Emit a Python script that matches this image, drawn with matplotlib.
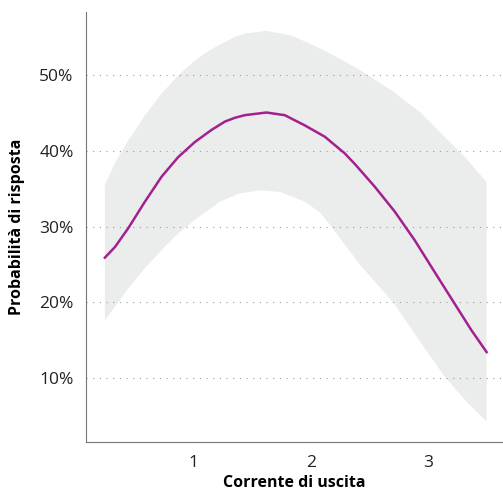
import matplotlib.pyplot as plt
import numpy as np

# values
x_line = [0.24, 0.326, 0.44, 0.582, 0.724, 0.866, 1.009, 1.151, 1.265, 1.35, 1.435,
          1.62, 1.776, 1.947, 2.118, 2.288, 2.374, 2.459, 2.544, 2.715, 2.886, 3.056,
          3.227, 3.37, 3.50]
y_line = [25.9, 27.3, 29.8, 33.3, 36.6, 39.2, 41.2, 42.8, 43.9, 44.4, 44.75,
          45.1, 44.75, 43.4, 41.9, 39.7, 38.3, 36.8, 35.3, 32.0, 28.2, 24.0,
          19.8, 16.3, 13.4]

x_upper = [0.24, 0.326, 0.44, 0.582, 0.724, 0.866, 1.009, 1.151, 1.265, 1.35, 1.435,
           1.62, 1.834, 2.118, 2.40, 2.70, 2.943, 3.114, 3.315, 3.50]
y_upper = [35.5, 38.4, 41.4, 44.7, 47.6, 50.0, 52.0, 53.5, 54.4, 55.1, 55.55,
           55.9, 55.3, 53.3, 50.9, 47.9, 45.0, 42.3, 39.2, 35.9]

x_lower = [0.24, 0.326, 0.44, 0.582, 0.724, 0.866, 1.009, 1.151, 1.222, 1.392, 1.563,
           1.734, 1.947, 2.075, 2.16, 2.246, 2.416, 2.587, 2.715, 2.857, 2.999, 3.14,
           3.315, 3.50]
y_lower = [17.6, 19.4, 21.8, 24.5, 26.9, 29.1, 30.9, 32.5, 33.3, 34.4, 34.8,
           34.6, 33.3, 31.9, 30.3, 28.5, 25.0, 22.0, 19.7, 16.5, 13.3, 10.2,
           7.05, 4.2]

yticks = [10, 20, 30, 40, 50]
xticks = [1, 2, 3]

plt.rcParams['font.family'] = ['Open Sans', 'DejaVu Sans']

fig = plt.figure(figsize=(5.03, 4.92), dpi=100)
ax = fig.add_axes([0.171, 0.1016, 0.829, 0.874])

# band: closed polygon from upper and lower edges
poly_x = x_upper + x_lower[::-1]
poly_y = y_upper + y_lower[::-1]
ax.fill(poly_x, poly_y, color='#ebecec', lw=0, zorder=1)

ax.plot(x_line, y_line, color='#a3218e', lw=1.8, zorder=3,
        solid_joinstyle='round')

for t in yticks:
    ax.axhline(t, color='#9a9a9a', lw=0.8, ls=(0, (1, 5)), zorder=2)

ax.set_xlim(0.079, 3.64)
ax.set_ylim(1.5, 58.4)
ax.set_xticks(xticks)
ax.set_yticks(yticks)
ax.set_yticklabels([f'{t}%' for t in yticks])
ax.tick_params(length=0, labelsize=12.5, colors='#222222', pad=9)

for s in ['top', 'right']:
    ax.spines[s].set_visible(False)
ax.spines['left'].set_color('#777777')
ax.spines['bottom'].set_color('#777777')

ax.set_xlabel('Corrente di uscita', fontsize=11.5, fontweight='bold', labelpad=3)
ax.set_ylabel('Probabilità di risposta', fontsize=11.5, fontweight='bold', labelpad=10)

fig.savefig('out.png', dpi=100)
